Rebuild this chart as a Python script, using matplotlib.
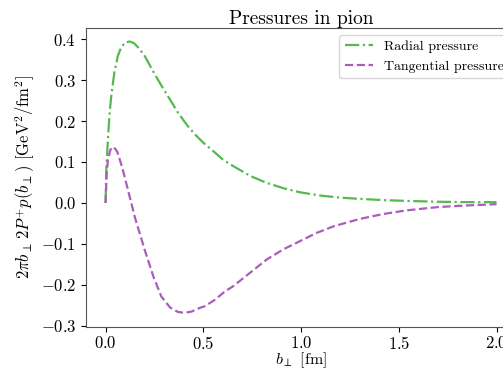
import numpy as np
import matplotlib
matplotlib.use('Agg')
import matplotlib.pyplot as plt

plt.rcParams['font.family'] = 'serif'
plt.rcParams['font.serif'] = ['cmr10']
plt.rcParams['mathtext.fontset'] = 'cm'
plt.rcParams['axes.formatter.use_mathtext'] = True
plt.rcParams['axes.unicode_minus'] = True

# values
b_rad = [0.0, 0.004, 0.012, 0.02, 0.029, 0.045, 0.063, 0.08, 0.1, 0.123, 0.145, 0.17, 0.2, 0.24,
         0.286, 0.33, 0.371, 0.42, 0.456, 0.5, 0.55, 0.6, 0.653, 0.74, 0.824, 0.91,
         0.995, 1.1, 1.2, 1.3, 1.42, 1.54, 1.7, 1.85, 2.0]
p_rad = [0.0, 0.085, 0.155, 0.215, 0.261, 0.318, 0.359, 0.380, 0.391, 0.394, 0.390, 0.378, 0.359, 0.324,
         0.286, 0.252, 0.220, 0.188, 0.168, 0.147, 0.127, 0.106, 0.090, 0.066, 0.049, 0.036,
         0.026, 0.018, 0.013, 0.010, 0.007, 0.005, 0.003, 0.002, 0.002]

b_tan = [0.0, 0.005, 0.012, 0.025, 0.041, 0.06, 0.085, 0.114, 0.15, 0.2, 0.245, 0.285,
         0.33, 0.37, 0.405, 0.44, 0.482, 0.508, 0.56, 0.61, 0.653, 0.74, 0.824, 0.91,
         0.995, 1.08, 1.166, 1.3, 1.42, 1.54, 1.7, 1.85, 2.0]
p_tan = [0.0, 0.065, 0.106, 0.13, 0.137, 0.125, 0.087, 0.033, -0.035, -0.114, -0.180, -0.228,
         -0.255, -0.266, -0.268, -0.265, -0.256, -0.252, -0.236, -0.216, -0.203, -0.170, -0.138, -0.113,
         -0.093, -0.073, -0.057, -0.039, -0.027, -0.018, -0.010, -0.006, -0.003]

fig = plt.figure(figsize=(5.03, 3.68), dpi=100)
ax = fig.add_axes([0.171, 0.111, 0.855, 0.813])

ax.plot(b_rad, p_rad, '-.', color='#55b94f', lw=1.6, label='Radial pressure')
ax.plot(b_tan, p_tan, '--', color='#ab5dbd', lw=1.6, label='Tangential pressure')

ax.set_xlim(-0.1, 2.1)
ax.set_ylim(-0.303, 0.427)
ax.set_xticks([0.0, 0.5, 1.0, 1.5, 2.0])
ax.set_yticks([-0.3, -0.2, -0.1, 0.0, 0.1, 0.2, 0.3, 0.4])
ax.tick_params(labelsize=12)
ax.tick_params(axis='x', pad=2)

ax.set_title('Pressures in pion', fontsize=14, pad=3)
ax.set_xlabel(r'$b_{\perp}$ [fm]', fontsize=11.5, labelpad=-1)
ax.set_ylabel(r'$2\pi b_{\perp}\,2P^{+}p(b_{\perp})$ [GeV$^2$/fm$^2$]', fontsize=12, labelpad=3)
ax.legend(loc='upper right', fontsize=10, borderaxespad=0.5)

for s in ax.spines.values():
    s.set_color('#555555')

fig.savefig('out.png', dpi=100)
